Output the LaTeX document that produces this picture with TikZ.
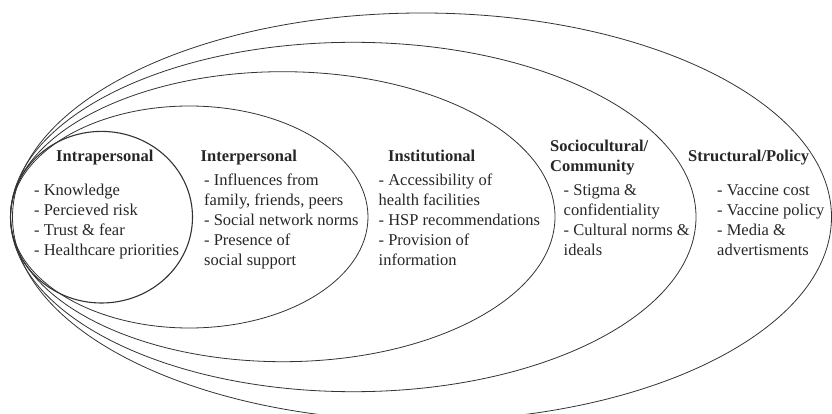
\documentclass[tikz,border=0pt]{standalone}
\usepackage{fontspec}
\setmainfont{Liberation Serif}
\begin{document}
\begin{tikzpicture}[x=1pt,y=-1pt,
  ring/.style={draw=black!80, line width=0.8pt},
  innerring/.style={draw=black!80, line width=1.1pt},
  head/.style={anchor=base west, inner sep=0pt, text=black!85,
    font=\fontsize{16.5}{20}\selectfont\bfseries},
  item/.style={anchor=base west, inner sep=0pt, text=black!85,
    font=\fontsize{16.5}{20}\selectfont}]
\useasboundingbox (0,0) rectangle (832,414);

% nested levels of the socio-ecological model, all touching on the left
\begin{scope}
  \clip (0,0) rectangle (832,414);
  \draw[ring] (422,217) ellipse [x radius=409.5, y radius=204];
  \draw[ring] (353.25,217) ellipse [x radius=342.75, y radius=174.7];
  \draw[ring] (282.75,216.7) ellipse [x radius=272.25, y radius=145];
  \draw[ring] (189.25,217) ellipse [x radius=178.75, y radius=111];
  \draw[innerring] (101.5,217.2) ellipse [x radius=91, y radius=85.8];
\end{scope}

% Intrapersonal
\node[head] (h1) at (56,161.5) {Intrapersonal};
\node[item] (a1) at (34,195.5) {- Knowledge};
\node[item] (a2) at (34,215.5) {- Percieved risk};
\node[item] (a3) at (34,235.5) {- Trust \& fear};
\node[item] (a4) at (34,255.5) {- Healthcare priorities};

% Interpersonal
\node[head] (h2) at (200.5,161.5) {Interpersonal};
\node[item] (b1) at (204,185.5) {- Influences from};
\node[item] (b2) at (204,205.5) {family, friends, peers};
\node[item] (b3) at (204,225.5) {- Social network norms};
\node[item] (b4) at (204,245.5) {- Presence of};
\node[item] (b5) at (204,265.5) {social support};

% Institutional
\node[head] (h3) at (388,161.5) {Institutional};
\node[item] (c1) at (378.5,185.5) {- Accessibility of};
\node[item] (c2) at (378.5,205.5) {health facilities};
\node[item] (c3) at (378.5,225.5) {- HSP recommendations};
\node[item] (c4) at (378.5,245.5) {- Provision of};
\node[item] (c5) at (378.5,265.5) {information};

% Sociocultural / Community
\node[head] (h4a) at (550,152) {Sociocultural/};
\node[head] (h4b) at (550,171.5) {Community};
\node[item] (d1) at (563.5,195.5) {- Stigma \&};
\node[item] (d2) at (563.5,215.5) {confidentiality};
\node[item] (d3) at (563.5,235.5) {- Cultural norms \&};
\node[item] (d4) at (563.5,255.5) {ideals};

% Structural / Policy
\node[head] (h5) at (688,161.5) {Structural/Policy};
\node[item] (e1) at (717,195.5) {- Vaccine cost};
\node[item] (e2) at (717,215.5) {- Vaccine policy};
\node[item] (e3) at (717,235.5) {- Media \&};
\node[item] (e4) at (717,255.5) {advertisments};
\end{tikzpicture}
\end{document}
